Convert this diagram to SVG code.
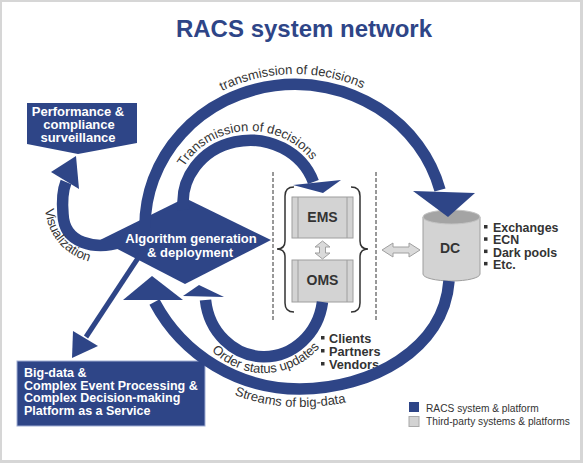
<svg xmlns="http://www.w3.org/2000/svg" width="583" height="463" viewBox="0 0 583 463">
<style>
.band{fill:none;stroke:#2e4587;stroke-width:11.5}
.head{fill:#2e4587}
.lbl{font-family:"Liberation Sans",Arial,sans-serif;font-size:13px;fill:#333}
.wt{font-family:"Liberation Sans",Arial,sans-serif;font-weight:bold;fill:#fff}
.dk{font-family:"Liberation Sans",Arial,sans-serif;font-weight:bold;fill:#333}
.li{font-family:"Liberation Sans",Arial,sans-serif;font-weight:bold;fill:#333;font-size:12.7px}
.li2{font-family:"Liberation Sans",Arial,sans-serif;font-weight:bold;fill:#333;font-size:12.4px}
.grey{fill:#d3d3d3;stroke:#9e9e9e;stroke-width:1}
.dash{stroke:#333;stroke-width:1;stroke-dasharray:4 2;fill:none}
.brace{fill:none;stroke:#333;stroke-width:1.5}
.bul{fill:#333}
.leg{font-family:"Liberation Sans",Arial,sans-serif;font-size:10.2px;fill:#333}
</style>
<defs>
<path id="tpOuter" d="M 136 225 A 159 151 0 0 1 454 225"/>
<path id="tpInner" d="M 174 202 A 76 71 0 0 1 326 202"/>
<path id="tpVis" d="M 45 205 C 46 245 80 268 118 264"/>
<path id="tpOrder" d="M 188 292 A 76 81 0 0 0 340 292"/>
<path id="tpStream" d="M 142.4 316 A 182 182 0 0 0 300 407 C 380 407 462 365 467 281"/>
</defs>
<rect width="583" height="463" fill="#d6d6d6"/>
<rect x="2" y="2" width="578" height="458" fill="#fff"/>
<text x="304" y="37" text-anchor="middle" font-family="Liberation Sans, Arial, sans-serif" font-size="24" font-weight="bold" fill="#2e4587">RACS system network</text>

<g id="perf">
<polygon points="27,103 137,103 137,143 78,154 27,144" fill="#2e4587"/>
<text class="wt" font-size="13" text-anchor="middle"><tspan x="78" y="116">Performance &amp;</tspan><tspan x="79" y="129">compliance</tspan><tspan x="78" y="142">surveillance</tspan></text>
</g>
<g id="algo">
<polygon points="100,240 185,198 271,240 185,284" fill="#2e4587"/>
<text class="wt" font-size="13" text-anchor="middle" x="191" y="243">Algorithm generation</text>
<text class="wt" font-size="13" text-anchor="middle" x="190" y="256.5">&amp; deployment</text>
</g>
<g id="bigdata">
<rect x="17" y="361" width="188" height="65" fill="#2e4587" stroke="#9fadd3" stroke-width="1"/>
<text class="wt" font-size="12.5"><tspan x="24" y="377">Big-data &amp;</tspan><tspan x="24" y="389.5">Complex Event Processing &amp;</tspan><tspan x="24" y="402">Complex Decision-making</tspan><tspan x="24" y="414.5">Platform as a Service</tspan></text>
</g>
<g id="ems">
<rect class="grey" x="292" y="197" width="61" height="41"/>
<line x1="298" y1="197" x2="298" y2="238" stroke="#9e9e9e"/>
<line x1="347" y1="197" x2="347" y2="238" stroke="#9e9e9e"/>
<text class="dk" font-size="14" x="322.5" y="222" text-anchor="middle">EMS</text>
</g>
<g id="oms">
<rect class="grey" x="292" y="260" width="61" height="42"/>
<line x1="298" y1="260" x2="298" y2="302" stroke="#9e9e9e"/>
<line x1="347" y1="260" x2="347" y2="302" stroke="#9e9e9e"/>
<text class="dk" font-size="14" x="322.5" y="285" text-anchor="middle">OMS</text>
</g>
<g id="dc">
<path d="M 423 217 L 423 274 A 28.5 7 0 0 0 480 274 L 480 217 Z" class="grey"/>
<ellipse cx="451.5" cy="217" rx="28.5" ry="7" fill="#a4a4a4" stroke="#c4c4c4"/>
<text class="dk" font-size="14" x="450" y="253" text-anchor="middle">DC</text>
</g>
<g id="venues">
<rect class="bul" x="484" y="225" width="3.5" height="3.5"/>
<rect class="bul" x="484" y="237.3" width="3.5" height="3.5"/>
<rect class="bul" x="484" y="249.6" width="3.5" height="3.5"/>
<rect class="bul" x="484" y="261.9" width="3.5" height="3.5"/>
<text class="li2" x="493" y="232">Exchanges</text>
<text class="li2" x="493" y="244.3">ECN</text>
<text class="li2" x="493" y="256.6">Dark pools</text>
<text class="li2" x="493" y="268.9">Etc.</text>
</g>
<g id="clients">
<rect class="bul" x="321" y="336" width="3.5" height="3.5"/>
<rect class="bul" x="321" y="349" width="3.5" height="3.5"/>
<rect class="bul" x="321" y="362" width="3.5" height="3.5"/>
<text class="li" x="329" y="343">Clients</text>
<text class="li" x="329" y="356">Partners</text>
<text class="li" x="329" y="369">Vendors</text>
</g>
<g id="frame">
<line class="dash" x1="273" y1="172" x2="273" y2="320"/>
<line class="dash" x1="376" y1="172" x2="376" y2="320"/>
<path class="brace" d="M 294 187 Q 285 187 285 196 L 285 241 Q 285 249 277 249 Q 285 249 285 257 L 285 303 Q 285 312 294 312"/>
<path class="brace" d="M 351 187 Q 360 187 360 196 L 360 241 Q 360 249 368 249 Q 360 249 360 257 L 360 303 Q 360 312 351 312"/>
</g>
<g id="legend">
<rect x="409" y="402" width="10" height="10" fill="#2e4587"/>
<rect x="409" y="416.5" width="10" height="10" fill="#d3d3d3" stroke="#aaa"/>
<text class="leg" x="426" y="411.5">RACS system &amp; platform</text>
<text class="leg" x="426" y="425">Third-party systems &amp; platforms</text>
</g>

<g id="connectors">
<path class="band" d="M 145 228 A 150 142 0 0 1 440 190"/>
<polygon class="head" points="413,191 475,193 448,217"/>
<path class="band" d="M 183.6 210 A 67 62 0 0 1 313.4 182"/>
<polygon class="head" points="293,185 341,180 323,193"/>
<path class="band" d="M 322.5 302 A 59 64 0 0 1 205.5 300"/>
<polygon class="head" points="183,296 224,297 199,285"/>
<path class="band" d="M 449 281 C 444 350 370 389 300 389 A 164 164 0 0 1 154.5 302"/>
<polygon class="head" points="123,300 183,300 152,276"/>
<path class="band" d="M 122 242 C 95 250 64 244 63 214 C 62 202 62 192 66 182"/>
<polygon class="head" points="51,172 79,189 76,156"/>
<line x1="142" y1="252" x2="86" y2="337" stroke="#2e4587" stroke-width="5"/>
<polygon class="head" points="72,358 73,331 98,346"/>
<polygon points="322.5,241 330,247 325.5,247 325.5,253 330,253 322.5,259 315,253 319.5,253 319.5,247 315,247" fill="#dadada" stroke="#a0a0a0"/>
<polygon points="382,250 393,243 393,247 409,247 409,243 420,250 409,257 409,253 393,253 393,257" fill="#dadada" stroke="#a0a0a0"/>
<text class="lbl"><textPath href="#tpOuter" startOffset="49.4%" text-anchor="middle">transmission of decisions</textPath></text>
<text class="lbl"><textPath href="#tpInner" startOffset="48.3%" text-anchor="middle">Transmission of decisions</textPath></text>
<text class="lbl"><textPath href="#tpVis" startOffset="4">Visualization</textPath></text>
<text class="lbl"><textPath href="#tpOrder" startOffset="51%" text-anchor="middle">Order status updates</textPath></text>
<text class="lbl"><textPath href="#tpStream" startOffset="180" text-anchor="middle">Streams of big-data</textPath></text>
</g>
</svg>
